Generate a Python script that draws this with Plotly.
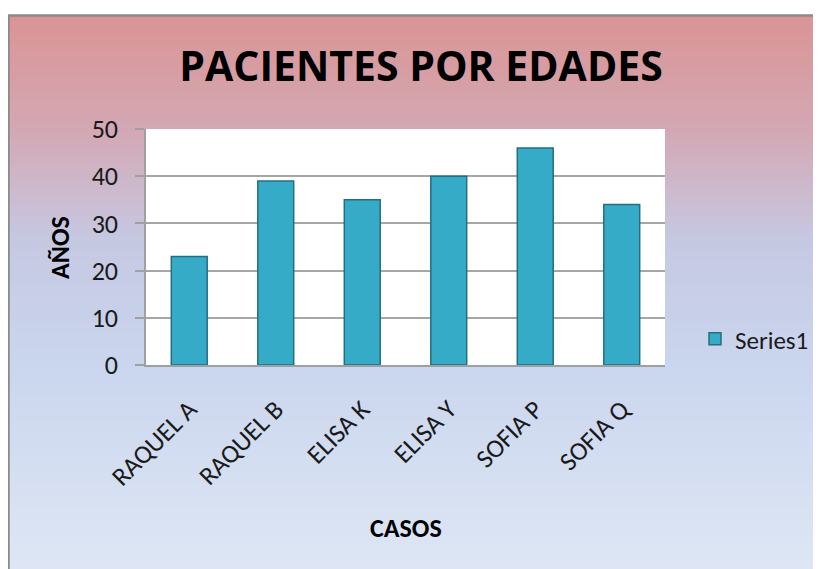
import plotly.graph_objects as go

# ---------------- data ----------------
categories = ["RAQUEL A", "RAQUEL B", "ELISA K", "ELISA Y", "SOFIA P", "SOFIA Q"]
ages = [23, 39, 35, 40, 46, 34]
series_name = "Series1"
y_ticks = [0, 10, 20, 30, 40, 50]

# ---------------- layout geometry (pixels) ----------------
W, H = 821, 569
OFF = 8  # page body margin shift
L, T = 146 - OFF, 129 - OFF
pw, ph = 519, 236
R, B = W - L - pw, H - T - ph


def px_x(x):
    # reference pixel x -> paper coordinate
    return (x - OFF - L) / pw


def px_y(y):
    # reference pixel y -> paper coordinate
    return (T + ph - (y - OFF)) / ph


FONT = "Carlito, Lato, 'Open Sans', sans-serif"
TXT = "#1a1a1a"

# background gradient (reference pixel y -> rgb)
stops = [
    (15, (218, 148, 148)),
    (130, (211, 168, 180)),
    (240, (198, 200, 226)),
    (365, (202, 214, 238)),
    (577, (223, 231, 245)),
]


def grad(y):
    for (y0, c0), (y1, c1) in zip(stops[:-1], stops[1:]):
        if y0 <= y <= y1:
            t = (y - y0) / (y1 - y0)
            return "rgb(%d,%d,%d)" % tuple(round(a + (b - a) * t) for a, b in zip(c0, c1))
    return "rgb(%d,%d,%d)" % stops[-1][1]


shapes = []
n = 110
top, bot = 15, 580
step = (bot - top) / n
for i in range(n):
    y0 = top + i * step
    y1 = y0 + step + 0.8
    shapes.append(dict(
        type="rect", xref="paper", yref="paper", layer="below",
        x0=px_x(8), x1=px_x(W + 12), y0=px_y(y1), y1=px_y(y0),
        fillcolor=grad(y0 + step / 2), line=dict(width=0),
    ))
# white plot area
shapes.append(dict(type="rect", xref="paper", yref="paper", layer="below",
                   x0=0, x1=1, y0=0, y1=1, fillcolor="white", line=dict(width=0)))
# outer border (top and left visible)
shapes.append(dict(type="path", xref="paper", yref="paper", layer="above",
                   path="M %f %f L %f %f L %f %f" % (px_x(8.5), px_y(H + 12), px_x(8.5), px_y(15.5),
                                                     px_x(W + 12), px_y(15.5)),
                   line=dict(color="#8a8a8a", width=2.5)))

fig = go.Figure()
fig.add_trace(go.Bar(
    x=categories, y=ages, name=series_name, showlegend=True,
    marker=dict(color="#35abc8", line=dict(color="#236f82", width=1.5)),
))

fig.update_layout(
    width=W, height=H,
    margin=dict(l=L, r=R, t=T, b=B, autoexpand=False),
    paper_bgcolor="white",
    plot_bgcolor="white",
    bargap=0.585,
    font=dict(family=FONT, color=TXT, size=20),
    title=dict(text="PACIENTES POR EDADES", x=(421 - OFF) / W, xanchor="center",
               y=1 - (67 - OFF) / H, yanchor="middle", xref="container", yref="container",
               font=dict(family="'Open Sans', Lato, sans-serif", size=41, color="#000000",
                         weight="bold")),
    showlegend=True,
    legend=dict(x=px_x(695), y=px_y(339), xanchor="left", yanchor="middle",
                bgcolor="rgba(0,0,0,0)", font=dict(size=25, color=TXT),
                itemwidth=30),
    shapes=shapes,
    annotations=[
        dict(text="AÑOS", x=px_x(60), y=px_y(248), xref="paper", yref="paper",
             xanchor="center", yanchor="middle",
             showarrow=False, textangle=-90, font=dict(size=26, weight="bold", color="#000")),
        dict(text="CASOS", x=px_x(406), y=px_y(528), xref="paper", yref="paper",
             xanchor="center", yanchor="middle",
             showarrow=False, font=dict(size=26, weight="bold", color="#000")),
    ],
)

fig.update_xaxes(
    showline=True, linecolor="#a0a0a0", linewidth=1.5,
    ticks="", tickangle=-45, tickfont=dict(size=26, color=TXT),
    ticklabelstandoff=17, showgrid=False,
)
fig.update_yaxes(
    range=[0, 50], tickvals=y_ticks, showline=True, linecolor="#a0a0a0", linewidth=1.5,
    ticks="outside", ticklen=9, tickcolor="#a0a0a0", tickwidth=1.5,
    tickfont=dict(size=26, color=TXT), ticklabelstandoff=12,
    showgrid=True, gridcolor="#a6a6a6", gridwidth=1.5, zeroline=False,
)

fig.write_html("out.html")
